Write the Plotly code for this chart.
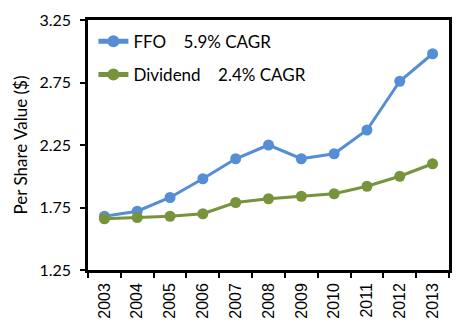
import plotly.graph_objects as go

years = ["2003", "2004", "2005", "2006", "2007", "2008", "2009", "2010", "2011", "2012", "2013"]
ffo = [1.68, 1.72, 1.83, 1.98, 2.14, 2.25, 2.14, 2.18, 2.37, 2.76, 2.98]
dividend = [1.66, 1.67, 1.68, 1.70, 1.79, 1.82, 1.84, 1.86, 1.92, 2.00, 2.10]
ffo_name = "FFO\u00a0\u00a0\u00a0\u00a05.9% CAGR"
div_name = "Dividend\u00a0\u00a0\u00a0\u00a02.4% CAGR"
y_ticks = [1.25, 1.75, 2.25, 2.75, 3.25]

fig = go.Figure()
fig.add_trace(go.Scatter(x=years, y=ffo, name=ffo_name, mode="lines+markers",
                         legendgroup="a",
                         line=dict(color="#558ED5", width=3),
                         marker=dict(color="#558ED5", size=11)))
fig.add_trace(go.Scatter(x=years, y=dividend, name=div_name, mode="lines+markers",
                         legendgroup="b",
                         line=dict(color="#77933C", width=3),
                         marker=dict(color="#77933C", size=11)))

fig.update_layout(
    width=462, height=330,
    margin=dict(l=88, r=10, t=18, b=60),
    paper_bgcolor="white", plot_bgcolor="white",
    font=dict(family="Lato", size=16, color="black"),
    showlegend=True,
    legend=dict(x=0.015, y=0.985, xanchor="left", yanchor="top",
                bgcolor="rgba(0,0,0,0)", font=dict(family="Lato", size=17),
                tracegroupgap=8, itemsizing="constant"),
)
fig.update_xaxes(type="category", range=[-0.5, 10.5], tickson="boundaries",
                 ticks="outside", ticklen=5, tickwidth=2, tickcolor="black",
                 showline=True, linecolor="black", linewidth=2.5, mirror=True,
                 showgrid=False, tickangle=-90, ticklabelstandoff=4,
                 tickfont=dict(family="Liberation Sans", size=16, color="black"))
fig.update_yaxes(range=[1.25, 3.25], tickvals=y_ticks, tickformat=".2f",
                 ticks="outside", ticklen=5, tickwidth=2, tickcolor="black",
                 showline=True, linecolor="black", linewidth=2.5, mirror=True,
                 showgrid=False, zeroline=False, ticklabelstandoff=6,
                 title=dict(text="Per Share Value ($)", font=dict(family="Lato", size=17), standoff=8),
                 tickfont=dict(family="Lato", size=16, color="black"))

fig.write_html("out.html")
